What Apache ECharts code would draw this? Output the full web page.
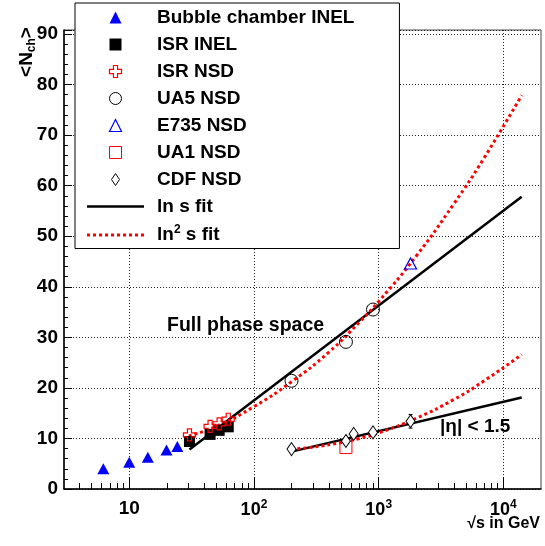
<!DOCTYPE html>
<html><head><meta charset="utf-8">
<script src="https://cdn.jsdelivr.net/npm/echarts@6/dist/echarts.min.js"></script>
<style>html,body{margin:0;padding:0;background:#fff}#c{width:545px;height:546px}</style>
</head><body><div id="c"></div>
<script>
// ---- data ----
const bubbleX = [6.2, 10.0, 14.1, 19.9, 24.3];
const bubbleY = [4.0, 5.3, 6.3, 7.7, 8.4];
const isrX = [30.4, 44.5, 52.6, 62.2];
const isrInelY = [9.4, 10.8, 11.6, 12.3];
const isrNsdY = [10.7, 12.4, 12.9, 13.8];
const ua5X = [200, 546, 900];
const ua5Y = [21.4, 29.1, 35.5];
const e735X = [1800];
const e735Y = [44.6];
const ua1X = [546];
const ua1Y = [8.2];
const cdfX = [200, 546, 630, 900, 1800];
const cdfY = [7.9, 9.5, 10.9, 11.2, 13.4];
const cdfErrX = [1800];
const cdfErrY = [13.4];
const cdfErr = [1.35];
// fit curves (read at several energies)
const lnsFullX = [30.4, 14000];
const lnsFullY = [7.8, 57.8];
const ln2FullX = [30, 50, 100, 200, 400, 700, 1000, 2000, 4000, 7000, 14000];
const ln2FullY = [10.5, 12.4, 16.3, 21.2, 27.1, 33.0, 37.1, 46.1, 56.4, 65.5, 77.9];
const lnsEtaX = [200, 14000];
const lnsEtaY = [7.4, 18.1];
const ln2EtaX = [200, 300, 500, 700, 1000, 2000, 4000, 7000, 14000];
const ln2EtaY = [7.9, 8.3, 9.2, 10.0, 11.1, 14.0, 17.7, 21.4, 26.6];
// axis ticks
const xMajor = [10, 100, 1000, 10000];
const xMinor = [4,5,6,7,8,9,20,30,40,50,60,70,80,90,200,300,400,500,600,700,800,900,2000,3000,4000,5000,6000,7000,8000,9000];
const xLabels = {10:'{b|10}', 100:'{p|10}{sup|2}', 1000:'{p|10}{sup|3}', 10000:'{p|10}{sup|4}'};

const FONT = '"Liberation Sans", Arial, Helvetica, sans-serif';
const zip = (xs, ys) => xs.map((x, i) => [x, ys[i]]);

const TRI = 'path://M5,0L10,10L0,10Z';
const SQR = 'path://M0,0H10V10H0Z';
const CROSS = 'path://M3.3,0H6.7V3.3H10V6.7H6.7V10H3.3V6.7H0V3.3H3.3Z';
const DIAM = 'path://M4,0L8,6L4,12L0,6Z';
const SOLID_LINE = 'path://M0,0H57V2.5H0Z';
let dots = '';
for (let i = 0; i < 10; i++) dots += 'M' + (i * 6) + ',0h3v3h-3Z';
const DOT_LINE = 'path://' + dots;
const CLEAR = 'rgba(0,0,0,0)';

const chart = echarts.init(document.getElementById('c'), null, {renderer: 'canvas'});

const option = {
  backgroundColor: '#fff',
  animation: false,
  grid: {left: 64, right: 4, top: 30, bottom: 57, show: true, borderColor: '#444', borderWidth: 1, outerBoundsMode: 'none', containLabel: false},
  xAxis: [{
    type: 'log', logBase: 10, min: 3, max: 20000,
    axisLine: {lineStyle: {color: '#000', width: 1.5}},
    axisTick: {inside: true, length: 12, customValues: xMajor, lineStyle: {color: '#000', width: 1}},
    axisLabel: {customValues: xMajor, margin: 10, color: '#000', fontFamily: FONT, fontWeight: 'bold', fontSize: 19,
      formatter: v => xLabels[Math.round(v)] || '',
      rich: {
        b: {fontFamily: FONT, fontWeight: 'bold', fontSize: 19, color: '#000'},
        p: {fontFamily: FONT, fontWeight: 'bold', fontSize: 18, color: '#000'},
        sup: {fontFamily: FONT, fontWeight: 'bold', fontSize: 12, color: '#000', padding: [0, 0, 10, 0]}}},
    splitLine: {show: true, lineStyle: {color: '#222', width: 1, type: [1, 2]}},
    minorTick: {show: false}
  }, {
    type: 'log', logBase: 10, min: 3, max: 20000, position: 'bottom',
    axisLine: {show: false},
    axisTick: {inside: true, length: 6, customValues: xMinor, lineStyle: {color: '#000', width: 1}},
    axisLabel: {show: false},
    splitLine: {show: false}
  }],
  yAxis: {
    type: 'value', min: 0, max: 90.8, interval: 10,
    axisLine: {show: true, lineStyle: {color: '#000', width: 1.5}},
    axisTick: {inside: true, length: 8, lineStyle: {color: '#000'}},
    minorTick: {show: true, splitNumber: 5, length: 4, lineStyle: {color: '#000'}},
    axisLabel: {margin: 6, color: '#000', fontFamily: FONT, fontWeight: 'bold', fontSize: 19,
      formatter: v => (Math.abs(v % 10) < 1e-6 ? String(v) : '')},
    splitLine: {show: true, lineStyle: {color: '#222', width: 1, type: [1, 2]}}
  },
  legend: {
    orient: 'vertical', left: 75, top: 3,
    padding: [5, 45, 4, 12],
    itemWidth: 57, itemHeight: 12, itemGap: 8,
    backgroundColor: '#fff', borderColor: '#000', borderWidth: 1,
    symbolKeepAspect: true,
    textStyle: {color: '#000', fontFamily: FONT, fontWeight: 'bold', fontSize: 19, lineHeight: 19, padding: [0, 0, 0, 8],
      rich: {sup: {color: '#000', fontFamily: FONT, fontWeight: 'bold', fontSize: 12, padding: [0, 0, 10, 0]}}},
    formatter: n => n === 'ln2 s fit' ? 'ln{sup|2} s fit' : n,
    selectedMode: false,
    data: [
      {name: 'Bubble chamber INEL', icon: TRI, itemStyle: {color: '#0000ff', opacity: 1}},
      {name: 'ISR INEL', icon: SQR, itemStyle: {color: '#000', opacity: 1}},
      {name: 'ISR NSD', icon: CROSS, itemStyle: {color: CLEAR, borderColor: '#ff0000', borderWidth: 1.2, opacity: 1}},
      {name: 'UA5 NSD', icon: 'circle', itemStyle: {color: CLEAR, borderColor: '#000', borderWidth: 1, opacity: 1}},
      {name: 'E735 NSD', icon: TRI, itemStyle: {color: CLEAR, borderColor: '#0000ff', borderWidth: 1.2, opacity: 1}},
      {name: 'UA1 NSD', icon: SQR, itemStyle: {color: CLEAR, borderColor: '#ff0000', borderWidth: 1, opacity: 1}},
      {name: 'CDF NSD', icon: DIAM, itemStyle: {color: CLEAR, borderColor: '#000', borderWidth: 1, opacity: 1}},
      {name: 'ln s fit', icon: SOLID_LINE, itemStyle: {color: '#000', borderWidth: 0, opacity: 1}},
      {name: 'ln2 s fit', icon: DOT_LINE, itemStyle: {color: '#ff0000', borderWidth: 0, opacity: 1}}
    ]
  },
  series: [
    {type: 'line', name: 'ln s fit', data: zip(lnsFullX, lnsFullY), symbol: 'none', lineStyle: {color: '#000', width: 2.5}, itemStyle: {color: '#000'}, z: 2},
    {type: 'line', name: 'ln s fit eta', data: zip(lnsEtaX, lnsEtaY), symbol: 'none', lineStyle: {color: '#000', width: 2.5}, z: 2},
    {type: 'line', name: 'ln2 s fit', data: zip(ln2FullX, ln2FullY), symbol: 'none', smooth: true, lineStyle: {color: '#ff0000', width: 3, type: [3, 3]}, itemStyle: {color: '#ff0000'}, z: 2},
    {type: 'line', name: 'ln2 s fit eta', data: zip(ln2EtaX, ln2EtaY), symbol: 'none', smooth: true, lineStyle: {color: '#ff0000', width: 3, type: [3, 3]}, itemStyle: {color: '#ff0000'}, z: 2},
    {type: 'scatter', name: 'Bubble chamber INEL', data: zip(bubbleX, bubbleY), symbol: TRI, symbolSize: [12, 11], itemStyle: {color: '#0000ff', opacity: 1}, z: 3},
    {type: 'scatter', name: 'ISR INEL', data: zip(isrX, isrInelY), symbol: SQR, symbolSize: 11, itemStyle: {color: '#000', opacity: 1}, z: 3},
    {type: 'scatter', name: 'ISR NSD', data: zip(isrX, isrNsdY), symbol: CROSS, symbolSize: 12, itemStyle: {color: CLEAR, borderColor: '#ff0000', borderWidth: 1.2, opacity: 1}, z: 4},
    {type: 'scatter', name: 'UA5 NSD', data: zip(ua5X, ua5Y), symbol: 'circle', symbolSize: 13, itemStyle: {color: CLEAR, borderColor: '#000', borderWidth: 1, opacity: 1}, z: 4},
    {type: 'scatter', name: 'E735 NSD', data: zip(e735X, e735Y), symbol: TRI, symbolSize: [12, 11], itemStyle: {color: CLEAR, borderColor: '#0000ff', borderWidth: 1.2, opacity: 1}, z: 4},
    {type: 'scatter', name: 'UA1 NSD', data: zip(ua1X, ua1Y), symbol: SQR, symbolSize: 12, itemStyle: {color: CLEAR, borderColor: '#ff0000', borderWidth: 1, opacity: 1}, z: 4},
    {type: 'custom', name: 'CDF err', data: cdfErrX.map((x, i) => [x, cdfErrY[i], cdfErr[i]]),
      encode: {x: 0, y: 1}, z: 3,
      renderItem: (params, api) => {
        const x = api.value(0), y = api.value(1), e = api.value(2);
        const t = api.coord([x, y + e]), b = api.coord([x, y - e]);
        const st = {stroke: '#000', lineWidth: 1};
        return {type: 'group', children: [
          {type: 'line', shape: {x1: t[0], y1: t[1], x2: b[0], y2: b[1]}, style: st},
          {type: 'line', shape: {x1: t[0] - 2, y1: t[1], x2: t[0] + 2, y2: t[1]}, style: st},
          {type: 'line', shape: {x1: b[0] - 2, y1: b[1], x2: b[0] + 2, y2: b[1]}, style: st}
        ]};
      }},
    {type: 'scatter', name: 'CDF NSD', data: zip(cdfX, cdfY), symbol: DIAM, symbolSize: [9, 13], itemStyle: {color: '#fff', borderColor: '#000', borderWidth: 1, opacity: 1}, z: 5}
  ],
  graphic: [
    {type: 'text', x: 167, y: 326, z: 10, style: {text: 'Full phase space', fill: '#000', fontFamily: FONT, fontWeight: 'bold', fontSize: 19.5, verticalAlign: 'middle'}},
    {type: 'text', x: 440, y: 427, z: 10, style: {text: '|η| < 1.5', fill: '#000', fontFamily: FONT, fontWeight: 'bold', fontSize: 19, verticalAlign: 'middle'}},
    {type: 'text', x: 540, y: 524, z: 10, style: {text: '√s in GeV', fill: '#000', fontFamily: FONT, fontWeight: 'bold', fontSize: 16, align: 'right', verticalAlign: 'middle'}},
    {type: 'text', x: 27, y: 52, rotation: Math.PI / 2, z: 10, style: {text: '<N{sub|ch}>', fill: '#000', fontFamily: FONT, fontWeight: 'bold', fontSize: 19, align: 'center', verticalAlign: 'middle',
      rich: {sub: {fill: '#000', fontFamily: FONT, fontWeight: 'bold', fontSize: 12, padding: [10, 0, 0, 0]}}}}
  ]
};
chart.setOption(option);
</script>
</body></html>
